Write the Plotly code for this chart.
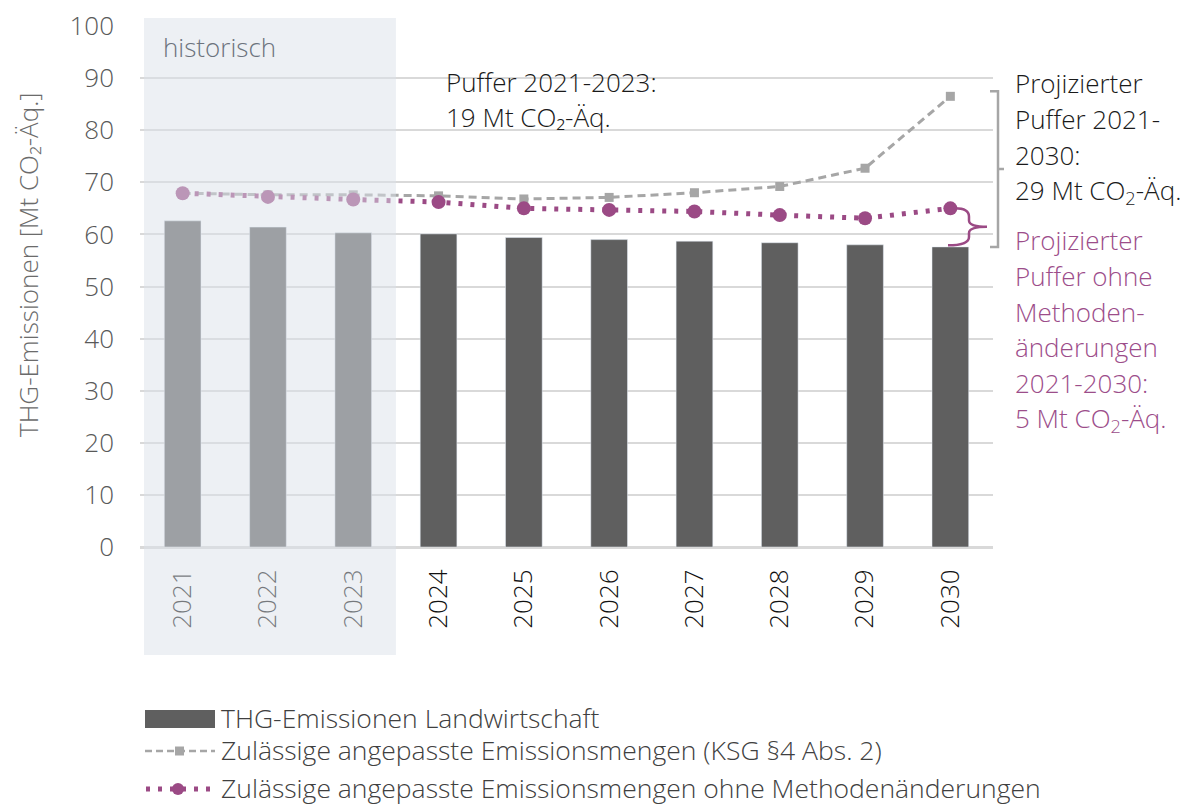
import plotly.graph_objects as go

years = ["2021", "2022", "2023", "2024", "2025", "2026", "2027", "2028", "2029", "2030"]
emissions = [62.6, 61.4, 60.3, 60.1, 59.4, 59.0, 58.7, 58.4, 58.0, 57.6]
ksg_allowed = [67.9, 67.6, 67.6, 67.4, 66.8, 67.1, 68.0, 69.2, 72.7, 86.5]
allowed_no_method = [67.9, 67.2, 66.7, 66.2, 65.0, 64.7, 64.4, 63.7, 63.1, 65.0]

name_bar = "THG-Emissionen Landwirtschaft"
name_ksg = "Zulässige angepasste Emissionsmengen (KSG §4 Abs. 2)"
name_nm = "Zulässige angepasste Emissionsmengen ohne Methodenänderungen"
y_title = "THG-Emissionen [Mt CO₂-Äq.]"

C_BAR = "#5f5f5f"
C_GRAY = "#a6a6a6"
C_PURP = "#9b4a85"
FONT = "Open Sans"
FS = 26

# page layout (page has an 8px body margin)
OFF = 8
W, H = 1180, 798
PL, PR, PT, PB = 140, 993, 26, 547   # plot area in page pixels
L, T = PL - OFF, PT - OFF
R = W - (PR - OFF)
B = H - (PB - OFF)
PW = PR - PL
PH = PB - PT


def px_x(px):
    return (px - PL) / PW


def px_y(py):
    return (PB - py) / PH


fig = go.Figure()
fig.add_trace(go.Bar(x=years, y=emissions, name=name_bar, marker_color=C_BAR,
                     width=0.43, showlegend=False))
fig.add_trace(go.Scatter(x=years, y=ksg_allowed, name=name_ksg, mode="lines+markers",
                         line=dict(color=C_GRAY, width=3, dash="8px,5px"),
                         marker=dict(symbol="square", size=9, color=C_GRAY),
                         showlegend=False))
fig.add_trace(go.Scatter(x=years, y=allowed_no_method, name=name_nm, mode="lines+markers",
                         line=dict(color=C_PURP, width=5, dash="4px,8px"),
                         marker=dict(symbol="circle", size=14, color=C_PURP),
                         showlegend=False))

shapes = []
annotations = []

# historic overlay
shapes.append(dict(type="rect", xref="paper", yref="paper", layer="above",
                   x0=px_x(144), x1=(2.5 + 0.5) / len(years), y0=px_y(655), y1=px_y(18),
                   fillcolor="rgba(219,225,233,0.5)", line=dict(width=0)))
annotations.append(dict(text="historisch", xref="paper", yref="paper", x=px_x(161), y=px_y(47),
                        xanchor="left", yanchor="middle", showarrow=False,
                        font=dict(size=FS, color="#6c737d")))

# y-axis title
annotations.append(dict(text=y_title, xref="paper", yref="paper", x=px_x(28), y=px_y(265),
                        xanchor="center", yanchor="middle", showarrow=False, textangle=-90,
                        font=dict(size=FS, color="#6b6b6b")))

# white box behind middle text
shapes.append(dict(type="rect", xref="paper", yref="paper", layer="between",
                   x0=px_x(427), x1=px_x(695), y0=px_y(136), y1=px_y(64),
                   fillcolor="rgba(255,255,255,0.75)", line=dict(width=0)))
for i, t in enumerate(["Puffer 2021-2023:", "19 Mt CO₂-Äq."]):
    annotations.append(dict(text=t, xref="paper", yref="paper", x=px_x(444), y=px_y(82 + 35 * i),
                            xanchor="left", yanchor="middle", showarrow=False,
                            font=dict(size=FS, color="#1a1a1a")))

# right annotations
for i, t in enumerate(["Projizierter", "Puffer 2021-", "2030:", "29 Mt CO<sub>2</sub>-Äq."]):
    annotations.append(dict(text=t, xref="paper", yref="paper", x=px_x(1013), y=px_y(83 + 36 * i),
                            xanchor="left", yanchor="middle", showarrow=False,
                            font=dict(size=FS, color="#1a1a1a")))
for i, t in enumerate(["Projizierter", "Puffer ohne", "Methoden-", "änderungen", "2021-2030:",
                       "5 Mt CO<sub>2</sub>-Äq."]):
    annotations.append(dict(text=t, xref="paper", yref="paper", x=px_x(1013), y=px_y(240 + 35.8 * i),
                            xanchor="left", yanchor="middle", showarrow=False,
                            font=dict(size=FS, color="#9c4d8a")))

# gray bracket (from 2030 values)
top_g = ksg_allowed[-1] + 1.0
bot_g = emissions[-1]
mid_g = (top_g + bot_g) / 2
xv, xl, xn = px_x(998), px_x(990), px_x(1004)
shapes.append(dict(type="path", xref="paper", yref="y", layer="above",
                   path=f"M {xl},{top_g} L {xv},{top_g} L {xv},{bot_g} L {xl},{bot_g} "
                        f"M {xv},{mid_g} L {xn},{mid_g}",
                   line=dict(color=C_GRAY, width=2.5)))

# purple brace
top_p = allowed_no_method[-1]
bot_p = emissions[-1] + 0.3
mid_p = (top_p + bot_p) / 2
a, v, n, e = px_x(955), px_x(969), px_x(987), px_x(948)
shapes.append(dict(type="path", xref="paper", yref="y", layer="above",
                   path=f"M {a},{top_p} Q {v},{top_p} {v},{top_p - 1.6} L {v},{mid_p + 1.2} "
                        f"Q {v},{mid_p} {n},{mid_p} Q {v},{mid_p} {v},{mid_p - 1.2} "
                        f"L {v},{bot_p + 1.6} Q {v},{bot_p} {e},{bot_p}",
                   line=dict(color=C_PURP, width=2.5)))

# custom legend
ly = [719, 751, 789]
shapes.append(dict(type="rect", xref="paper", yref="paper", x0=px_x(145), x1=px_x(215),
                   y0=px_y(728), y1=px_y(710), fillcolor=C_BAR, line=dict(width=0)))
shapes.append(dict(type="line", xref="paper", yref="paper", x0=px_x(145), x1=px_x(215),
                   y0=px_y(ly[1]), y1=px_y(ly[1]), line=dict(color=C_GRAY, width=2.5, dash="7px,4px")))
shapes.append(dict(type="rect", xref="paper", yref="paper", x0=px_x(175), x1=px_x(184),
                   y0=px_y(ly[1] + 4.5), y1=px_y(ly[1] - 4.5), fillcolor=C_GRAY, line=dict(width=0)))
shapes.append(dict(type="line", xref="paper", yref="paper", x0=px_x(146), x1=px_x(214),
                   y0=px_y(ly[2]), y1=px_y(ly[2]), line=dict(color=C_PURP, width=5, dash="4px,8px")))
shapes.append(dict(type="circle", xref="paper", yref="paper", x0=px_x(172), x1=px_x(184),
                   y0=px_y(ly[2] + 6), y1=px_y(ly[2] - 6), fillcolor=C_PURP, line=dict(width=0)))
for yy, t in zip(ly, [name_bar, name_ksg, name_nm]):
    annotations.append(dict(text=t, xref="paper", yref="paper", x=px_x(219), y=px_y(yy - 1),
                            xanchor="left", yanchor="middle", showarrow=False,
                            font=dict(size=26.5, color="#404040")))

fig.update_layout(
    width=W, height=H,
    margin=dict(l=L, r=R, t=T, b=B, autoexpand=False),
    paper_bgcolor="white", plot_bgcolor="white",
    font=dict(family=FONT, size=FS, color="#404040", weight=300),
    shapes=shapes, annotations=annotations,
    showlegend=False,
)
fig.update_xaxes(type="category", range=[-0.5, 9.5], tickangle=-90, showgrid=False,
                 showline=True, linecolor="#d9d9d9", linewidth=2,
                 tickfont=dict(size=FS, color="#111111"), ticklabelstandoff=10)
fig.update_yaxes(range=[0, 100], dtick=10, showgrid=True, gridcolor="#d9d9d9", gridwidth=2,
                 zeroline=True, zerolinecolor="#d9d9d9", zerolinewidth=2,
                 tickfont=dict(size=FS, color="#595959"), ticklabelstandoff=25,
                 ticklabeloverflow="allow")

fig.write_html("out.html")
